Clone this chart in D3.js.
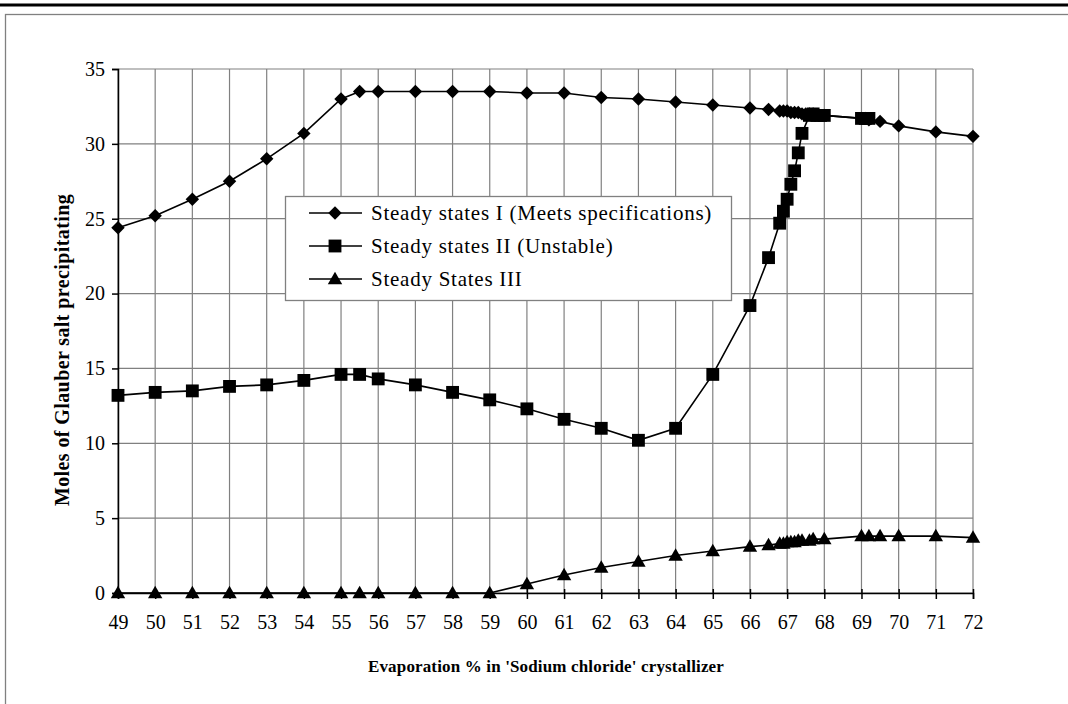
<!DOCTYPE html>
<html><head><meta charset="utf-8">
<script src="https://cdn.jsdelivr.net/npm/d3@7"></script>
<style>body{margin:0;background:#fff}svg{display:block}</style>
</head><body>
<script>
const xTicks = [49,50,51,52,53,54,55,56,57,58,59,60,61,62,63,64,65,66,67,68,69,70,71,72];
const yTicks = [0,5,10,15,20,25,30,35];

const s1x = [49,50,51,52,53,54,55,55.5,56,57,58,59,60,61,62,63,64,65,66,66.5,66.8,66.9,67,67.1,67.2,67.3,67.4,67.5,67.6,67.7,68,69,69.1,69.2,69.5,70,71,72];
const s1y = [24.4,25.2,26.3,27.5,29.0,30.7,33.0,33.5,33.5,33.5,33.5,33.5,33.4,33.4,33.1,33.0,32.8,32.6,32.4,32.3,32.2,32.2,32.2,32.1,32.1,32.1,32.0,32.0,32.0,32.0,31.9,31.7,31.7,31.6,31.5,31.2,30.8,30.5];

const s2x = [49,50,51,52,53,54,55,55.5,56,57,58,59,60,61,62,63,64,65,66,66.5,66.8,66.9,67,67.1,67.2,67.3,67.4,67.6,67.7,67.8,67.9,68,69,69.1,69.2];
const s2y = [13.2,13.4,13.5,13.8,13.9,14.2,14.6,14.6,14.3,13.9,13.4,12.9,12.3,11.6,11.0,10.2,11.0,14.6,19.2,22.4,24.7,25.5,26.3,27.3,28.2,29.4,30.7,31.9,32.0,31.9,31.9,31.9,31.7,31.7,31.7];

const s3x = [49,50,51,52,53,54,55,55.5,56,57,58,59,60,61,62,63,64,65,66,66.5,66.8,66.9,67,67.1,67.2,67.3,67.4,67.6,67.7,68,69,69.2,69.5,70,71,72];
const s3y = [0,0,0,0,0,0,0,0,0,0,0,0,0.6,1.2,1.7,2.1,2.5,2.8,3.1,3.2,3.3,3.3,3.4,3.4,3.4,3.5,3.5,3.5,3.6,3.6,3.8,3.8,3.8,3.8,3.8,3.7];

const seriesNames = ["Steady states I (Meets specifications)","Steady states II (Unstable)","Steady States III"];
const xTitle = "Evaporation % in 'Sodium chloride' crystallizer";
const yTitle = "Moles of Glauber salt precipitating";

const W = 1068, H = 704;
const svg = d3.select("body").append("svg").attr("width", W).attr("height", H);
const font = "'Liberation Serif','Times New Roman',serif";

// outer frame
svg.append("rect").attr("x",5.5).attr("y",14.5).attr("width",W+10).attr("height",H+10)
  .attr("fill","none").attr("stroke","#808080").attr("stroke-width",1.3);
svg.append("line").attr("x1",0).attr("x2",W).attr("y1",5).attr("y2",5)
  .attr("stroke","#000").attr("stroke-width",3);

const x = d3.scaleLinear().domain([49,72]).range([118,973]);
const y = d3.scaleLinear().domain([0,35]).range([593,69]);

const g = svg.append("g");
g.selectAll(".vg").data(xTicks).join("line")
  .attr("x1",d=>x(d)).attr("x2",d=>x(d)).attr("y1",y(35)).attr("y2",y(0))
  .attr("stroke","#808080").attr("stroke-width",1.2);
g.selectAll(".hg").data(yTicks).join("line")
  .attr("x1",x(49)).attr("x2",x(72)).attr("y1",d=>y(d)).attr("y2",d=>y(d))
  .attr("stroke","#808080").attr("stroke-width",1.2);

const xAxis = d3.axisBottom(x).tickValues(xTicks).tickSize(6).tickPadding(14).tickFormat(d3.format("d"));
const yAxis = d3.axisLeft(y).tickValues(yTicks).tickSize(6).tickPadding(8);
const ax = svg.append("g").attr("transform",`translate(0,${y(0)})`).call(xAxis);
const ay = svg.append("g").attr("transform",`translate(${x(49)},0)`).call(yAxis);
[ax,ay].forEach(a=>{
  a.attr("font-size",null).attr("font-family",null);
  a.select(".domain").attr("stroke","#000").attr("stroke-width",1.5);
  a.selectAll(".tick line").attr("stroke","#000").attr("stroke-width",1.5);
  a.selectAll("text").style("font-family",font).style("font-size","20px").attr("fill","#000");
});
ay.selectAll(".tick line").attr("x2",-6);
ay.selectAll("text").attr("x",-13);
ax.selectAll(".tick line").attr("y1",-4);
ax.selectAll("text").attr("dy","0.71em").attr("y",22);

// custom square diamond (rotated square)
const diamondSq = { draw(ctx, size){ const r = Math.sqrt(size/2); ctx.moveTo(0,-r); ctx.lineTo(r,0); ctx.lineTo(0,r); ctx.lineTo(-r,0); ctx.closePath(); } };

const sets = [
  {xs:s1x, ys:s1y, sym:diamondSq, size:90, dy:0},
  {xs:s2x, ys:s2y, sym:d3.symbolSquare, size:165, dy:0},
  {xs:s3x, ys:s3y, sym:d3.symbolTriangle, size:90, dy:1}
];
const line = d3.line().x(d=>x(d[0])).y(d=>y(d[1]));
sets.forEach(s=>{
  const pts = s.xs.map((v,i)=>[v,s.ys[i]]);
  svg.append("path").datum(pts).attr("d",line).attr("fill","none").attr("stroke","#000").attr("stroke-width",1.6);
});
sets.forEach(s=>{
  const pts = s.xs.map((v,i)=>[v,s.ys[i]]);
  const sym = d3.symbol().type(s.sym).size(s.size);
  svg.append("g").selectAll("path").data(pts).join("path")
    .attr("transform",d=>`translate(${x(d[0])},${y(d[1]) + s.dy})`)
    .attr("d",sym).attr("fill","#000");
});

// legend
const lg = svg.append("g");
lg.append("rect").attr("x",285.5).attr("y",196.5).attr("width",446).attr("height",104)
  .attr("fill","#fff").attr("stroke","#808080").attr("stroke-width",1.3);
sets.forEach((s,i)=>{
  const yy = 213 + i*33;
  lg.append("line").attr("x1",309).attr("x2",362).attr("y1",yy).attr("y2",yy).attr("stroke","#000").attr("stroke-width",1.6);
  lg.append("path").attr("transform",`translate(335,${yy + s.dy})`)
    .attr("d",d3.symbol().type(s.sym).size(s.size)).attr("fill","#000");
  lg.append("text").attr("x",371).attr("y",yy+7).text(seriesNames[i])
    .style("font-family",font).style("font-size","21px").attr("letter-spacing","0.75px").attr("fill","#000");
});

// titles
svg.append("text").attr("x",546).attr("y",672).attr("text-anchor","middle")
  .style("font-family",font).attr("font-weight","bold").style("font-size","17px")
  .attr("letter-spacing","0.15px").text(xTitle);
svg.append("text").attr("transform","translate(69,350) rotate(-90)").attr("text-anchor","middle")
  .style("font-family",font).attr("font-weight","bold").style("font-size","20px")
  .attr("letter-spacing","0.4px").text(yTitle);
</script>
</body></html>
